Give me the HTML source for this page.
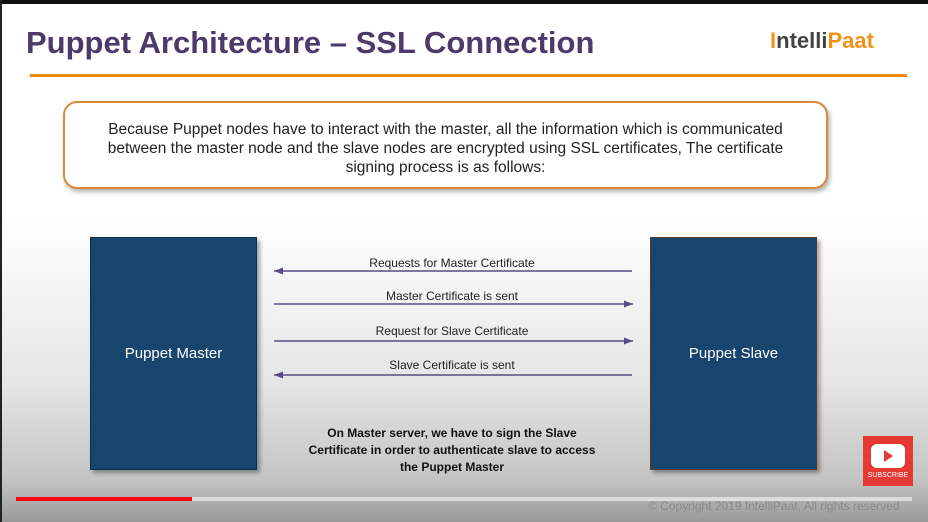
<!DOCTYPE html>
<html><head><style>
body{margin:0;width:928px;height:522px;overflow:hidden;font-family:"Liberation Sans",sans-serif;position:relative;
background:linear-gradient(#fff 0,#fff 220px,#e6e6e6 380px,#c4c4c4 480px,#9a9a9a 522px);}
.a{position:absolute}
.box{position:absolute;background:#17456e;border:1px solid #0e3050;box-shadow:3px 3px 4px rgba(0,0,0,.35);color:#fff;font-size:15px;display:flex;align-items:center;justify-content:center}
.lbl{position:absolute;font-size:12px;color:#222;text-align:center;width:360px;left:272px}
</style></head><body>
<div class="a" style="left:0;top:0;width:928px;height:4px;background:#111"></div>
<div class="a" style="left:0;top:0;width:2px;height:522px;background:#222"></div>
<div class="a" style="left:26px;top:25px;font-size:31px;font-weight:bold;color:#4c3a6b;letter-spacing:0px">Puppet Architecture – SSL Connection</div>
<div class="a" style="left:770px;top:28px;font-size:22px;font-weight:bold;color:#444"><span style="color:#f39019">I</span>ntelli<span style="color:#f39019">Paat</span></div>
<div class="a" style="left:30px;top:74px;width:877px;height:3px;background:#f08a10"></div>
<div class="a" style="left:63px;top:101px;width:765px;height:88px;border:2px solid #d9893a;border-radius:14px;box-shadow:2px 3px 4px rgba(0,0,0,.3);background:#fff;font-size:15.5px;color:#222;text-align:center;line-height:19px;box-sizing:border-box;padding-top:17px">Because Puppet nodes have to interact with the master, all the information which is communicated<br>between the master node and the slave nodes are encrypted using SSL certificates, The certificate<br>signing process is as follows:</div>
<div class="box" style="left:90px;top:237px;width:165px;height:231px">Puppet Master</div>
<div class="box" style="left:650px;top:237px;width:165px;height:231px;border-color:#5a3a20">Puppet Slave</div>
<svg class="a" style="left:0;top:0" width="928" height="522">
<defs><marker id="m" markerUnits="userSpaceOnUse" markerWidth="9" markerHeight="7" refX="9" refY="3.5" orient="auto"><path d="M0,0L9,3.5L0,7z" fill="#5a4a8a"/></marker></defs>
<g stroke="#5a4a8a" stroke-width="1.5" marker-end="url(#m)">
<line x1="632" y1="271" x2="274" y2="271"/>
<line x1="274" y1="304" x2="633" y2="304"/>
<line x1="274" y1="341" x2="633" y2="341"/>
<line x1="632" y1="375" x2="274" y2="375"/>
</g></svg>
<div class="lbl" style="top:256px">Requests for Master Certificate</div>
<div class="lbl" style="top:289px">Master Certificate is sent</div>
<div class="lbl" style="top:324px">Request for Slave Certificate</div>
<div class="lbl" style="top:358px">Slave Certificate is sent</div>
<div class="a" style="left:292px;top:425px;width:320px;text-align:center;font-size:12px;font-weight:bold;color:#111;line-height:17px">On Master server, we have to sign the Slave<br>Certificate in order to authenticate slave to access<br>the Puppet Master</div>
<div class="a" style="left:863px;top:436px;width:50px;height:50px;background:#e53935"><div style="margin:8px 8px 0;width:34px;height:24px;background:#fff;border-radius:6px;position:relative"><div style="position:absolute;left:13px;top:6px;border-left:9px solid #e53935;border-top:6px solid transparent;border-bottom:6px solid transparent"></div></div><div style="color:#fff;font-size:7px;text-align:center;margin-top:4px">SUBSCRIBE</div></div>
<div class="a" style="left:16px;top:497px;width:896px;height:4px;background:#ddd"></div>
<div class="a" style="left:16px;top:497px;width:176px;height:4px;background:#f00"></div>
<div class="a" style="left:648px;top:499px;font-size:12px;color:#888">© Copyright 2019 IntelliPaat, All rights reserved</div>
</body></html>
